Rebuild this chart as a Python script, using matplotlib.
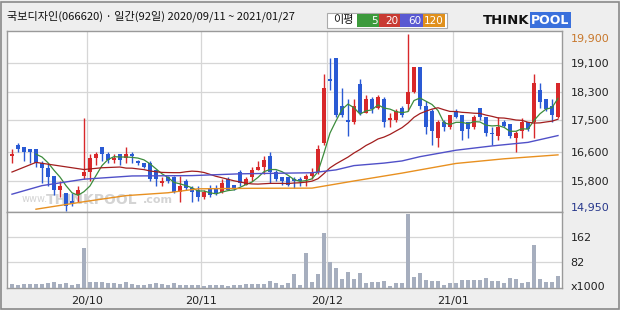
import numpy as np
import pandas as pd
import matplotlib
matplotlib.use("Agg")
import matplotlib.pyplot as plt
from matplotlib.patches import Rectangle
from matplotlib.transforms import ScaledTranslation

plt.rcParams['font.family'] = ['Noto Sans CJK KR', 'DejaVu Sans']

# daily candles 2020/09/11 ~ 2021/01/27 (92 trading days)
opens = [16500, 16800, 16750, 16700, 16700, 16300, 16150, 15950, 15550, 15450,
         15250, 15400, 15950, 16050, 16450, 16750, 16550, 16400, 16550, 16450,
         16550, 16350, 16300, 16300, 16100, 15750, 15900, 15900, 15500, 15800,
         15600, 15550, 15350, 15600, 15600, 15500, 15850, 15700, 16050, 15700,
         15900, 16100, 16200, 16500, 16050, 15900, 15900, 15850, 15850, 15850,
         15950, 16050, 16850, 18650, 19250, 17900, 17500, 17450, 18500, 17700,
         18100, 17850, 18100, 17500, 17500, 17850, 17950, 18300, 19000, 17900,
         17750, 17000, 17450, 17300, 17750, 17650, 17450, 17300, 17850, 17600,
         17150, 17050, 17450, 17400, 17000, 17200, 17450, 17450, 18350, 18100,
         17900, 17600]
highs = [16700, 16850, 16750, 16700, 16700, 16350, 16300, 15950, 15800, 15450,
         15450, 15650, 17550, 16550, 16600, 16750, 16600, 16550, 16550, 16750,
         16600, 16400, 16300, 16350, 16100, 15900, 15950, 15950, 15950, 15850,
         15650, 15650, 15550, 15700, 15700, 15850, 15900, 15700, 16100, 15900,
         16200, 16350, 16500, 16600, 16100, 15900, 15900, 15900, 15900, 16000,
         16150, 16800, 18800, 19250, 19250, 18400, 18100, 18100, 18650, 18200,
         18150, 18200, 18150, 17700, 17800, 17900, 19900, 19000, 19000, 18050,
         17800, 17500, 17500, 17650, 17800, 17650, 17450, 17650, 17850, 17600,
         17300, 17600, 17500, 17400, 17200, 17550, 17450, 18800, 18550, 18100,
         18100, 18550]
lows = [16300, 16600, 16350, 16300, 16200, 15750, 15650, 15400, 15350, 14950,
        15100, 15200, 15850, 15800, 16250, 16350, 16300, 16300, 16250, 16300,
        16300, 16250, 16150, 15800, 15650, 15650, 15750, 15450, 15200, 15550,
        15200, 15250, 15300, 15350, 15400, 15450, 15550, 15550, 15650, 15700,
        15800, 16100, 16000, 15750, 15800, 15700, 15650, 15600, 15650, 15650,
        15850, 16000, 16800, 18350, 17600, 17600, 17050, 17400, 17650, 17700,
        17700, 17800, 17300, 17300, 17450, 17600, 17750, 18250, 17800, 17100,
        16800, 16750, 17200, 17250, 17550, 16950, 17000, 17250, 17500, 17050,
        16800, 16950, 17300, 17000, 16600, 17000, 17200, 17000, 17850, 17750,
        17450, 17550]
closes = [16550, 16700, 16600, 16600, 16300, 16150, 15900, 15550, 15650, 15100,
          15150, 15550, 16050, 16450, 16550, 16550, 16400, 16450, 16400, 16550,
          16500, 16300, 16200, 15850, 15850, 15800, 15800, 15500, 15650, 15600,
          15500, 15350, 15500, 15400, 15450, 15750, 15550, 15600, 15750, 15850,
          16100, 16200, 16400, 16050, 15850, 15800, 15700, 15800, 15800, 15950,
          16050, 16700, 18400, 18600, 17650, 17650, 17450, 17900, 17700, 18100,
          17800, 18150, 17450, 17550, 17750, 17650, 18300, 19000, 17900, 17300,
          17200, 17450, 17300, 17650, 17600, 17200, 17250, 17600, 17600, 17150,
          17100, 17300, 17350, 17050, 17150, 17450, 17250, 18550, 18000, 17800,
          17650, 18550]
volumes = [13, 11, 13, 13, 14, 14, 16, 20, 13, 16,
           11, 13, 127, 20, 18, 18, 15, 15, 14, 18,
           12, 10, 11, 13, 15, 13, 10, 15, 11, 10,
           10, 9, 7, 9, 9, 8, 7, 10, 10, 12,
           12, 12, 12, 21, 15, 11, 15, 45, 11, 111,
           18, 43, 175, 84, 63, 30, 52, 30, 47, 16,
           19, 20, 22, 7, 16, 15, 235, 36, 47, 25,
           21, 21, 10, 15, 17, 26, 26, 26, 26, 33,
           23, 23, 15, 31, 29, 15, 19, 135, 30, 20,
           20, 39]

ma20_early_x = [0, 4, 12, 15, 18]
ma20_early_y = [16050, 16320, 16120, 16170, 16190]
ma60_x = [0, 5, 12, 20, 30, 38, 50, 54, 57, 62, 65, 68, 74, 80, 86, 91]
ma60_y = [15430, 15670, 15850, 15940, 15950, 16000, 16030, 16110, 16230, 16300,
          16360, 16480, 16660, 16780, 16880, 17070]
ma120_x = [4, 12, 19, 26, 31, 40, 50, 57, 65, 74, 82, 91]
ma120_y = [15010, 15220, 15390, 15470, 15580, 15595, 15600, 15800, 16020, 16290,
           16420, 16530]

month_labels = ['20/10', '20/11', '20/12', '21/01']
month_starts = [13, 32, 53, 74]
price_grid = [15800, 16600, 17500, 18300, 19100]
price_max = 19900
price_min = 14950
vol_ticks = [162, 82]

UP = '#d8282a'
DOWN = '#2a5ad4'
VOL = '#a6aebe'
GRID = '#d6d6d6'
EDGE = '#9a9a9a'

fig = plt.figure(figsize=(6.2, 3.1), dpi=100, facecolor='#eeeeee')
W, H = 620.0, 310.0

ax_p = fig.add_axes([7 / W, 1 - 212 / H, 555 / W, 181 / H])
ax_v = fig.add_axes([7 / W, 1 - 288 / H, 555 / W, 76 / H])

x = np.arange(len(closes))
o = np.array(opens)
h = np.array(highs)
l = np.array(lows)
c = np.array(closes)
colors = np.where(c >= o, UP, DOWN)

# grid
for ax in (ax_p, ax_v):
    ax.set_facecolor('white')
    ax.set_xlim(-0.83, 91.67)
    ax.set_xticks([m - 0.5 for m in month_starts])
    ax.grid(axis='x', color=GRID, lw=0.9)
    ax.set_axisbelow(True)
    for s in ax.spines.values():
        s.set_color(EDGE)
        s.set_linewidth(1)
    ax.tick_params(length=0, labelsize=8, colors='#222222')
    ax.yaxis.tick_right()
for v in price_grid:
    ax_p.axhline(v, color=GRID, lw=0.9, zorder=0)
for v in vol_ticks:
    ax_v.axhline(v, color=GRID, lw=0.9, zorder=0)

# watermark
ax_p.text(0.027, 0.055, 'www.', transform=ax_p.transAxes, fontsize=7,
          color='#d4d4d4', family='DejaVu Sans', zorder=1)
ax_p.text(0.07, 0.045, 'THINKPOOL', transform=ax_p.transAxes, fontsize=10,
          color='#d4d4d4', weight='bold', family='DejaVu Sans', zorder=1)
ax_p.text(0.245, 0.05, '.com', transform=ax_p.transAxes, fontsize=8,
          color='#d4d4d4', weight='bold', family='DejaVu Sans', zorder=1)

# candles
ax_p.vlines(x, l, h, colors=colors, lw=1, zorder=3)
body_h = np.maximum(np.abs(c - o), 40)
ax_p.bar(x, body_h, bottom=np.minimum(o, c), width=0.72, color=colors,
         linewidth=0, zorder=3)

# moving averages
ma5 = pd.Series(closes).rolling(5).mean()
ma20 = pd.Series(closes).rolling(20).mean()
ax_p.plot(x[4:], ma5[4:], color='#3c8c3c', lw=0.9, zorder=4)
ax_p.plot(ma20_early_x + list(x[19:]), ma20_early_y + list(ma20[19:]),
          color='#a21e1e', lw=0.9, zorder=4)
ax_p.plot(ma60_x, ma60_y, color='#5050c8', lw=1, zorder=4)
ax_p.plot(ma120_x, ma120_y, color='#e89020', lw=1, zorder=4)

ax_p.set_ylim(14932, 19995)
ax_p.set_yticks(price_grid + [price_max, price_min])
ax_p.set_yticklabels([f'{v:,}' for v in price_grid + [price_max, price_min]],
                     family='DejaVu Sans')
ax_p.tick_params(axis='y', pad=6)
tl = ax_p.get_yticklabels()
tl[-2].set_color('#c8782c')
tl[-2].set_transform(tl[-2].get_transform()
                     + ScaledTranslation(0, -4 / 100, fig.dpi_scale_trans))
tl[-1].set_color('#28388c')
tl[-1].set_transform(tl[-1].get_transform()
                     + ScaledTranslation(0, 4 / 100, fig.dpi_scale_trans))
ax_p.set_xticklabels([])

# volume
ax_v.bar(x, volumes, width=0.68, color=VOL, linewidth=0, zorder=3)
ax_v.set_ylim(0, 241)
ax_v.set_yticks(vol_ticks + [6])
ax_v.set_yticklabels([str(v) for v in vol_ticks] + ['x1000'], family='DejaVu Sans')
ax_v.tick_params(axis='y', pad=6)
ax_v.set_xticklabels(month_labels, family='DejaVu Sans')
ax_v.tick_params(axis='x', pad=6)

# title
fig.text(7 / W, 1 - 16 / H, '국보디자인(066620) · 일간(92일) 2020/09/11 ~ 2021/01/27',
         fontsize=8, va='center', ha='left', color='#111111')

# MA legend
fig.patches.append(Rectangle((327 / W, 1 - 28 / H), 120 / W, 15 / H,
                             transform=fig.transFigure, facecolor='white',
                             edgecolor='#aaaaaa', lw=0.8))
fig.text(333 / W, 1 - 20.5 / H, '이평', fontsize=8, va='center', ha='left',
         color='#111111')
legend_boxes = [('5', '#3c9a3c', 357, 379), ('20', '#c83a32', 379, 400),
                ('60', '#5a5ad2', 400, 423), ('120', '#e0901c', 423, 445)]
for lab, col, x0, x1 in legend_boxes:
    fig.patches.append(Rectangle((x0 / W, 1 - 27 / H), (x1 - x0) / W, 13 / H,
                                 transform=fig.transFigure, facecolor=col,
                                 edgecolor='none'))
    fig.text((x1 - 1.5) / W, 1 - 20.5 / H, lab, fontsize=7.5, va='center',
             ha='right', color='white', family='DejaVu Sans')

# logo
fig.text(483 / W, 1 - 20 / H, 'THINK', fontsize=9.5, weight='bold',
         va='center', ha='left', color='#111111', family='DejaVu Sans')
fig.text(531 / W, 1 - 20 / H, 'POOL', fontsize=9, weight='bold', va='center',
         ha='left', color='white', family='DejaVu Sans',
         bbox=dict(boxstyle='square,pad=0.12', facecolor='#3a70dc', edgecolor='none'))

# outer frame
fig.patches.append(Rectangle((1 / W, 1 / H), 618 / W, 307 / H,
                             transform=fig.transFigure, facecolor='none',
                             edgecolor='#8a8a8a', lw=1.2))

fig.savefig('out.png', dpi=100, facecolor=fig.get_facecolor())
